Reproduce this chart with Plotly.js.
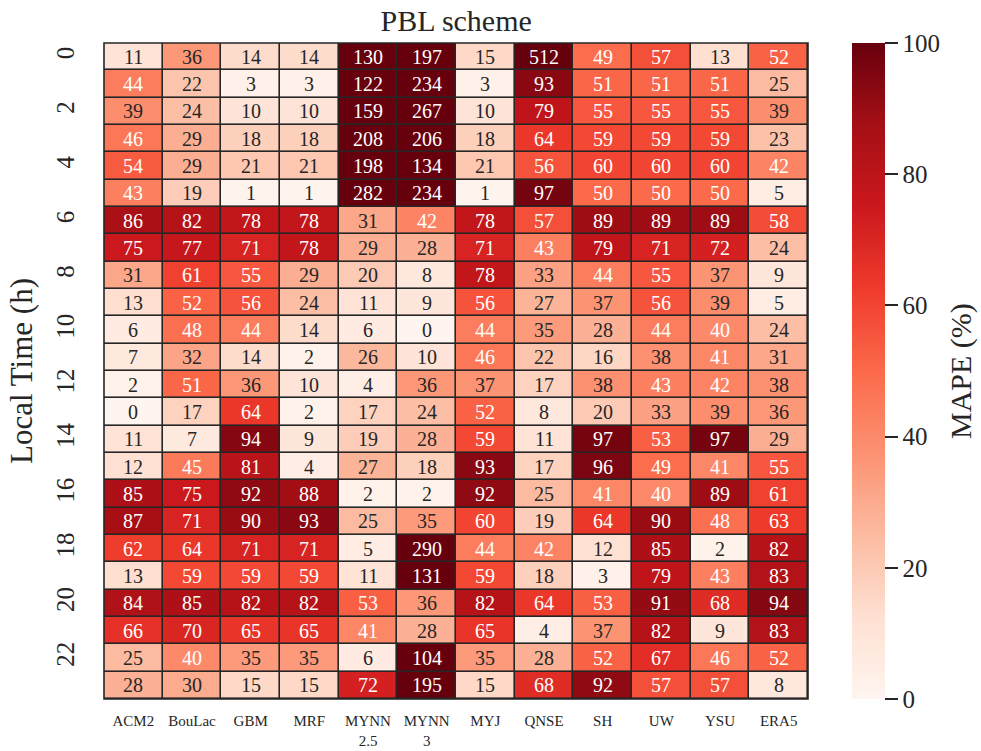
<!DOCTYPE html>
<html>
<head>
<meta charset="utf-8">
<script src="https://cdn.plot.ly/plotly-3.0.1.min.js"></script>
<style>html,body{margin:0;padding:0;background:#fff;}#chart{width:981px;height:751px;}</style>
</head>
<body>
<div id="chart"></div>
<script>
const schemes = ["ACM2","BouLac","GBM","MRF","MYNN<br>2.5","MYNN<br>3","MYJ","QNSE","SH","UW","YSU","ERA5"];
const hours = [0,1,2,3,4,5,6,7,8,9,10,11,12,13,14,15,16,17,18,19,20,21,22,23];
const hourTicks = [0,2,4,6,8,10,12,14,16,18,20,22];
const cbarTicks = [0,20,40,60,80,100];
const mape = [
  [11,36,14,14,130,197,15,512,49,57,13,52],
  [44,22,3,3,122,234,3,93,51,51,51,25],
  [39,24,10,10,159,267,10,79,55,55,55,39],
  [46,29,18,18,208,206,18,64,59,59,59,23],
  [54,29,21,21,198,134,21,56,60,60,60,42],
  [43,19,1,1,282,234,1,97,50,50,50,5],
  [86,82,78,78,31,42,78,57,89,89,89,58],
  [75,77,71,78,29,28,71,43,79,71,72,24],
  [31,61,55,29,20,8,78,33,44,55,37,9],
  [13,52,56,24,11,9,56,27,37,56,39,5],
  [6,48,44,14,6,0,44,35,28,44,40,24],
  [7,32,14,2,26,10,46,22,16,38,41,31],
  [2,51,36,10,4,36,37,17,38,43,42,38],
  [0,17,64,2,17,24,52,8,20,33,39,36],
  [11,7,94,9,19,28,59,11,97,53,97,29],
  [12,45,81,4,27,18,93,17,96,49,41,55],
  [85,75,92,88,2,2,92,25,41,40,89,61],
  [87,71,90,93,25,35,60,19,64,90,48,63],
  [62,64,71,71,5,290,44,42,12,85,2,82],
  [13,59,59,59,11,131,59,18,3,79,43,83],
  [84,85,82,82,53,36,82,64,53,91,68,94],
  [66,70,65,65,41,28,65,4,37,82,9,83],
  [25,40,35,35,6,104,35,28,52,67,46,52],
  [28,30,15,15,72,195,15,68,92,57,57,8]
];

const reds = [
  [0.0,"#fff5f0"],[0.125,"#fee0d2"],[0.25,"#fcbba1"],[0.375,"#fc9272"],
  [0.5,"#fb6a4a"],[0.625,"#ef3b2c"],[0.75,"#cb181d"],[0.875,"#a50f15"],[1.0,"#67000d"]
];
const FONT = "Liberation Serif, Times New Roman, serif";
const INK = "#262626";

const annotations = [];
hours.forEach((h, r) => {
  schemes.forEach((s, c) => {
    const v = mape[r][c];
    annotations.push({
      x: s, y: h, xref: "x", yref: "y", text: String(v), showarrow: false,
      font: {family: FONT, size: 20, color: v >= 40 ? "#ffffff" : INK}
    });
  });
});
annotations.push({
  text: "MAPE (%)", xref: "paper", yref: "paper", x: 1.2173, y: 0.5,
  xanchor: "center", yanchor: "middle", textangle: -90, showarrow: false,
  font: {family: FONT, size: 30, color: INK}
});

const trace = {
  type: "heatmap",
  x: schemes, y: hours, z: mape,
  zmin: 0, zmax: 100,
  colorscale: reds,
  xgap: 1.6, ygap: 1.6,
  hoverinfo: "skip",
  colorbar: {
    x: 1.0625, xanchor: "left", xpad: 0, ypad: 0,
    y: 0.5, yanchor: "middle", len: 1, lenmode: "fraction",
    thickness: 33, outlinewidth: 0,
    tickvals: cbarTicks, tickprefix: " ",
    ticks: "outside", ticklen: 13, tickwidth: 2, tickcolor: INK,
    tickfont: {family: FONT, size: 25, color: INK}
  }
};

const layout = {
  width: 981, height: 751,
  margin: {l: 104, r: 173, t: 43, b: 52},
  paper_bgcolor: "#ffffff",
  plot_bgcolor: INK,
  title: {text: "PBL scheme", x: 0.465, xanchor: "center", y: 0.973, yanchor: "middle",
          font: {family: FONT, size: 30, color: INK}},
  xaxis: {
    type: "category", showgrid: false, zeroline: false,
    ticks: "outside", ticklen: 8, tickcolor: "rgba(0,0,0,0)",
    tickfont: {family: FONT, size: 15, color: INK},
    fixedrange: true
  },
  yaxis: {
    autorange: "reversed", showgrid: false, zeroline: false,
    tickvals: hourTicks, ticktext: hourTicks.map(String),
    tickangle: -90, ticks: "", ticklabelstandoff: 24,
    tickfont: {family: FONT, size: 25, color: INK},
    title: {text: "Local Time (h)", standoff: 10, font: {family: FONT, size: 31, color: INK}},
    fixedrange: true
  },
  shapes: [{type: "rect", xref: "paper", yref: "paper", x0: 0, x1: 1, y0: 0, y1: 1,
            line: {color: INK, width: 1.6}, fillcolor: "rgba(0,0,0,0)"}],
  annotations: annotations
};

Plotly.newPlot("chart", [trace], layout, {displayModeBar: false, staticPlot: true});
</script>
</body>
</html>
